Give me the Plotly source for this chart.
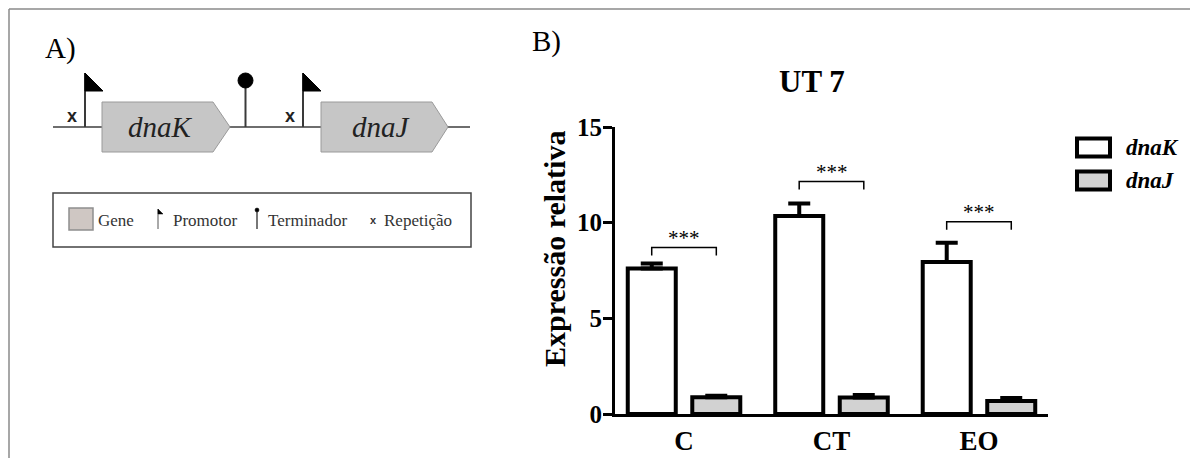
import plotly.graph_objects as go

W, H = 1190, 458

# ---------------- data ----------------
categories = ["C", "CT", "EO"]
series_names = ["dnaK", "dnaJ"]
dnaK_values = [7.6, 10.35, 7.95]
dnaK_errors = [0.27, 0.65, 1.0]
dnaJ_values = [0.88, 0.86, 0.68]
dnaJ_errors = [0.08, 0.13, 0.15]
bracket_heights = [8.7, 12.15, 10.05]
significance = ["***", "***", "***"]
y_ticks = [0, 5, 10, 15]
y_title = "Expressão relativa"

SERIF = "Liberation Serif"
SANS = "Liberation Sans"


def px(x):
    return x / W


def py(y):
    return 1 - y / H


fig = go.Figure()

fig.add_trace(go.Bar(
    x=categories, y=dnaK_values, name=series_names[0],
    marker=dict(color="white", line=dict(color="black", width=4)),
    error_y=dict(type="data", symmetric=False, array=dnaK_errors,
                 arrayminus=[0] * len(dnaK_errors),
                 color="black", thickness=4, width=11),
    showlegend=False,
))
fig.add_trace(go.Bar(
    x=categories, y=dnaJ_values, name=series_names[1],
    marker=dict(color="#d2d2d2", line=dict(color="black", width=4)),
    error_y=dict(type="data", symmetric=False, array=dnaJ_errors,
                 arrayminus=[0] * len(dnaJ_errors),
                 color="black", thickness=4, width=11),
    showlegend=False,
))

shapes = []
annotations = []


def note(x, y, text, font, xanchor="center", yanchor="middle", **kw):
    d = dict(x=x, y=y, text=text, showarrow=False, xanchor=xanchor,
             yanchor=yanchor, font=font)
    d.setdefault("xref", "paper")
    d.setdefault("yref", "paper")
    d.update(kw)
    annotations.append(d)


# ---------------- significance brackets ----------------
half = 0.219
for i, (hgt, sig) in enumerate(zip(bracket_heights, significance)):
    shapes.append(dict(
        type="path", xref="x", yref="y",
        path=f"M {i - half},{hgt - 0.42} L {i - half},{hgt} L {i + half},{hgt} L {i + half},{hgt - 0.42}",
        line=dict(color="black", width=1.5),
    ))
    note(i, hgt, sig, dict(family=SERIF, size=21, color="black"),
         xref="x", yref="y", yshift=10)

# ---------------- right legend (manual) ----------------
legend_fills = ["white", "#d2d2d2"]
legend_rows = [147.5, 180.5]
for name, fill, yc in zip(series_names, legend_fills, legend_rows):
    shapes.append(dict(
        type="rect", xref="paper", yref="paper",
        x0=px(1077), x1=px(1110), y0=py(yc - 9), y1=py(yc + 9),
        fillcolor=fill, line=dict(color="black", width=4),
    ))
    note(px(1124), py(yc), name,
         dict(family=SERIF, size=23, color="black", weight="bold", style="italic"),
         xanchor="left")

# ---------------- y axis title ----------------
note(px(554), py(249), y_title,
     dict(family=SERIF, size=30, color="black", weight="bold"), textangle=-90)

# ---------------- frame lines ----------------
shapes.append(dict(type="line", xref="paper", yref="paper",
                   x0=px(9), x1=1, y0=py(9), y1=py(9),
                   line=dict(color="#8a8a8a", width=1.5)))
shapes.append(dict(type="line", xref="paper", yref="paper",
                   x0=px(9), x1=px(9), y0=py(9), y1=0,
                   line=dict(color="#8a8a8a", width=1.5)))

# ---------------- panel A: gene diagram ----------------
def poly(points, fill, line_color, lw):
    d = "M " + " L ".join(f"{px(x)},{py(y)}" for x, y in points) + " Z"
    return dict(type="path", xref="paper", yref="paper", path=d,
                fillcolor=fill, line=dict(color=line_color, width=lw))


shapes.append(dict(type="line", xref="paper", yref="paper",
                   x0=px(53), x1=px(470), y0=py(127), y1=py(127),
                   line=dict(color="#6e6e6e", width=2)))
shapes.append(poly([(102, 102), (213, 102), (230, 127), (213, 152), (102, 152)],
                   "#c6c6c6", "#9a9a9a", 1))
shapes.append(poly([(321, 102), (432, 102), (448, 127), (432, 152), (321, 152)],
                   "#c6c6c6", "#9a9a9a", 1))
for fx in (85, 303):
    shapes.append(dict(type="line", xref="paper", yref="paper",
                       x0=px(fx), x1=px(fx), y0=py(127), y1=py(73),
                       line=dict(color="#3a3a3a", width=2)))
    shapes.append(poly([(fx, 73), (fx + 18, 91), (fx, 91)], "black", "black", 1))
shapes.append(dict(type="line", xref="paper", yref="paper",
                   x0=px(245.5), x1=px(245.5), y0=py(127), y1=py(82),
                   line=dict(color="#3a3a3a", width=2)))
shapes.append(dict(type="circle", xref="paper", yref="paper",
                   x0=px(238), x1=px(253), y0=py(73), y1=py(88),
                   fillcolor="black", line=dict(color="black", width=1)))
for rx in (72, 290):
    note(px(rx), py(116), "x", dict(family=SANS, size=18, color="#222", weight="bold"))
for gx, gname in ((160, "dnaK"), (381, "dnaJ")):
    note(px(gx), py(127), gname, dict(family=SERIF, size=29, color="#222", style="italic"))

# legend box of panel A
shapes.append(dict(type="rect", xref="paper", yref="paper",
                   x0=px(53), x1=px(471), y0=py(193), y1=py(247),
                   fillcolor="white", line=dict(color="#444", width=1.5), layer="below"))
shapes.append(dict(type="rect", xref="paper", yref="paper",
                   x0=px(69), x1=px(93), y0=py(208), y1=py(230),
                   fillcolor="#cfc7c3", line=dict(color="#8f8f8f", width=1.5)))
shapes.append(dict(type="line", xref="paper", yref="paper",
                   x0=px(158), x1=px(158), y0=py(229), y1=py(209),
                   line=dict(color="#555", width=1)))
shapes.append(poly([(158, 209), (163, 214), (158, 214)], "black", "black", 0.5))
shapes.append(dict(type="line", xref="paper", yref="paper",
                   x0=px(257), x1=px(257), y0=py(229), y1=py(212),
                   line=dict(color="#777", width=2)))
shapes.append(dict(type="circle", xref="paper", yref="paper",
                   x0=px(255), x1=px(259), y0=py(208), y1=py(212),
                   fillcolor="black", line=dict(color="black", width=0.5)))
legend_a = [(96, "Gene"), (171, "Promotor"), (266, "Terminador"), (382, "Repetição")]
for lx, txt in legend_a:
    note(px(lx), py(220), txt, dict(family=SERIF, size=17, color="#333"), xanchor="left")
note(px(373), py(220), "x", dict(family=SANS, size=11, color="#333", weight="bold"))

# panel labels
note(px(60), py(49), "A)", dict(family=SERIF, size=29, color="black"))
note(px(546), py(41), "B)", dict(family=SERIF, size=29, color="black"))

fig.update_layout(
    width=W, height=H,
    margin=dict(l=0, r=0, t=0, b=0, autoexpand=False),
    paper_bgcolor="white", plot_bgcolor="white",
    barmode="group", bargap=0.125, bargroupgap=0.256,
    title=dict(text="UT 7", x=px(812), y=py(81), xanchor="center", yanchor="middle",
               xref="paper", yref="paper", automargin=False,
               font=dict(family=SERIF, size=31, color="black", weight="bold")),
    xaxis=dict(
        domain=[px(615), px(1048)], type="category", range=[-0.468, 2.468],
        showline=True, linecolor="black", linewidth=3, ticks="", showgrid=False,
        tickfont=dict(family=SERIF, size=27, color="black", weight="bold"),
        ticklabelstandoff=1, fixedrange=True, automargin=False,
    ),
    yaxis=dict(
        domain=[1 - 414 / H, 1 - 127 / H], range=[0, 15], tickvals=y_ticks,
        showline=True, linecolor="black", linewidth=3, ticks="outside",
        ticklen=9, tickwidth=3, tickcolor="black", showgrid=False, zeroline=False,
        tickfont=dict(family=SERIF, size=25, color="black", weight="bold"),
        ticklabelstandoff=-4, automargin=False,
    ),
    shapes=shapes,
    annotations=annotations,
)

fig.write_html("out.html")
